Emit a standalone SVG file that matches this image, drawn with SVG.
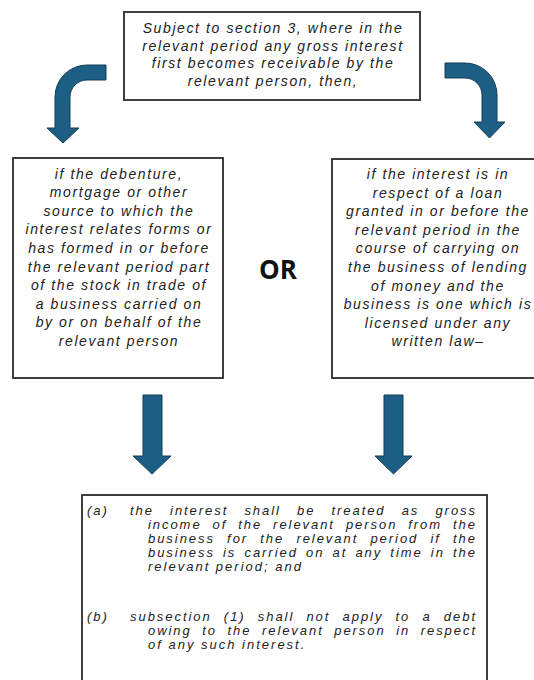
<svg xmlns="http://www.w3.org/2000/svg" width="534" height="680" viewBox="0 0 534 680">
<style>
.box{fill:#ffffff;stroke:#2a2a2a;stroke-width:1.8}
.t{font-family:"Liberation Sans",Arial,sans-serif;font-style:italic;font-size:14px;letter-spacing:1.6px;fill:#222;text-anchor:middle}
.b{font-family:"Liberation Sans",Arial,sans-serif;font-style:italic;font-size:13px;letter-spacing:2px;fill:#222}
.arr{fill:#1d5e84;stroke:#123d56;stroke-width:1}
.or{font-family:"Open Sans","Liberation Sans",sans-serif;font-weight:700;font-size:26px;fill:#111;text-anchor:middle}
</style>
<rect width="534" height="680" fill="#ffffff"/>
<g id="top">
<rect class="box" x="124" y="12" width="296" height="88"/>
<text class="t" x="273" y="33">Subject to section 3, where in the</text>
<text class="t" x="273" y="50.5">relevant period any gross interest</text>
<text class="t" x="273" y="68">first becomes receivable by the</text>
<text class="t" x="273" y="85.5">relevant person, then,</text>
</g>
<g id="left">
<rect class="box" x="13" y="158" width="210" height="220"/>
<text class="t" x="119" y="178.5">if the debenture,</text>
<text class="t" x="119" y="197.1">mortgage or other</text>
<text class="t" x="119" y="215.7">source to which the</text>
<text class="t" x="119" y="234.3">interest relates forms or</text>
<text class="t" x="119" y="252.9">has formed in or before</text>
<text class="t" x="119" y="271.5">the relevant period part</text>
<text class="t" x="119" y="290.1">of the stock in trade of</text>
<text class="t" x="119" y="308.7">a business carried on</text>
<text class="t" x="119" y="327.3">by or on behalf of the</text>
<text class="t" x="119" y="345.9">relevant person</text>
</g>
<g id="or">
<text class="or" x="278" y="279">OR</text>
</g>
<g id="right">
<rect class="box" x="332" y="159" width="210" height="219"/>
<text class="t" x="438" y="179">if the interest is in</text>
<text class="t" x="438" y="197.6">respect of a loan</text>
<text class="t" x="438" y="216.2">granted in or before the</text>
<text class="t" x="438" y="234.8">relevant period in the</text>
<text class="t" x="438" y="253.4">course of carrying on</text>
<text class="t" x="438" y="272">the business of lending</text>
<text class="t" x="438" y="290.6">of money and the</text>
<text class="t" x="438" y="309.2">business is one which is</text>
<text class="t" x="438" y="327.8">licensed under any</text>
<text class="t" x="438" y="346.4">written law–</text>
</g>
<g id="bottom">
<rect class="box" x="82" y="495" width="405" height="200"/>
<text class="b" x="87" y="515">(a)</text>
<text class="b" x="130" y="515" word-spacing="10.6" textLength="347" lengthAdjust="spacing">the interest shall be treated as gross</text>
<text class="b" x="148" y="529" word-spacing="5.4" textLength="329" lengthAdjust="spacing">income of the relevant person from the</text>
<text class="b" x="148" y="543" word-spacing="6.6" textLength="329" lengthAdjust="spacing">business for the relevant period if the</text>
<text class="b" x="148" y="557" word-spacing="2.6" textLength="329" lengthAdjust="spacing">business is carried on at any time in the</text>
<text class="b" x="148" y="571">relevant period; and</text>
<text class="b" x="87" y="621">(b)</text>
<text class="b" x="130" y="621" word-spacing="6.6" textLength="347" lengthAdjust="spacing">subsection (1) shall not apply to a debt</text>
<text class="b" x="148" y="635" word-spacing="5" textLength="329" lengthAdjust="spacing">owing to the relevant person in respect</text>
<text class="b" x="148" y="649">of any such interest.</text>
</g>
<g id="connectors">
<path class="arr" d="M106,65 L87,65 A32,32 0 0 0 55,97 L55,128 L47,128 L63,143 L79,128 L70,128 L70,97 A17,17 0 0 1 87,80 L106,80 Z"/>
<path class="arr" d="M445,63 L465,63 A32,32 0 0 1 497,95 L497,122 L505,122 L489.5,138 L474,122 L482,122 L482,95 A17,17 0 0 0 465,78 L445,78 Z"/>
<path class="arr" d="M143,395 L162,395 L162,456 L171,456 L152,474 L133,456 L143,456 Z"/>
<path class="arr" d="M384,395 L403,395 L403,456 L412,456 L393.5,474 L375,456 L384,456 Z"/>
</g>
</svg>
